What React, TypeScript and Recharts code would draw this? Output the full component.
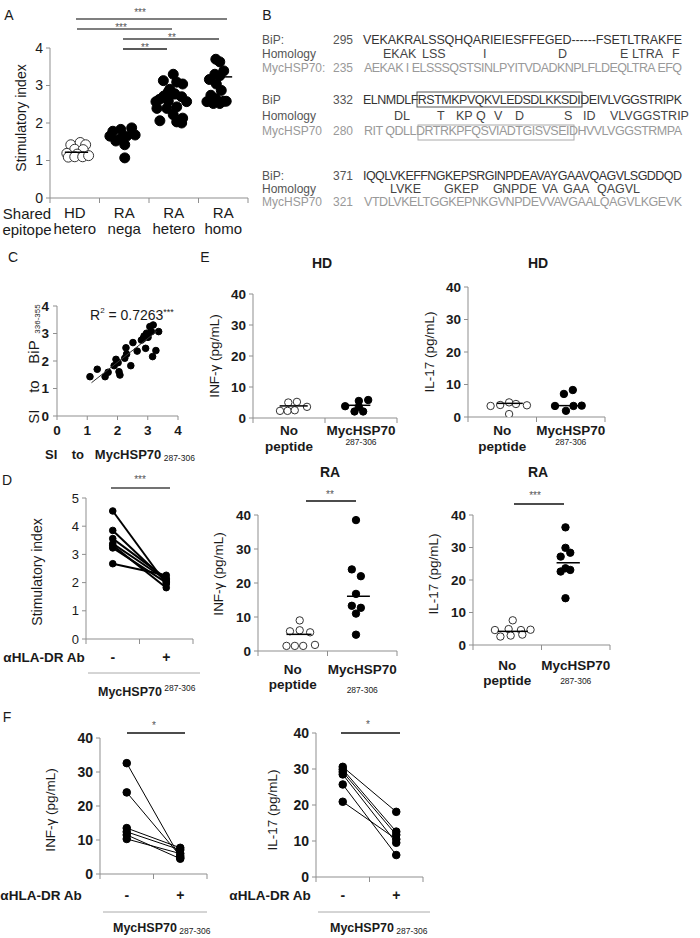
import React from "react";
import { ScatterChart, Scatter, XAxis, YAxis } from "recharts";

const FONT = '"Liberation Sans", Arial, Helvetica, sans-serif';
const INK = "#1a1a1a";
const AXIS = "#8f8f8f";
const GREY = "#555";

// ---------- A: stimulatory index by shared epitope ----------
const epitopeLabels = [["HD", "hetero"], ["RA", "nega"], ["RA", "hetero"], ["RA", "homo"]];
const hdX = [0.42, 0.61, 0.72, 0.5, 0.67, 0.34, 0.55, 0.37, 0.5, 0.66, 0.78];
const hdY = [1.42, 1.48, 1.42, 1.3, 1.29, 1.19, 1.17, 1.09, 1.1, 1.1, 1.13];
const negaX = [1.27, 1.43, 1.65, 1.21, 1.55, 1.72, 1.33, 1.51, 1.43, 1.51];
const negaY = [1.78, 1.83, 1.87, 1.65, 1.65, 1.68, 1.52, 1.42, 1.59, 1.07];
const heteroX = [2.49, 2.29, 2.56, 2.68, 2.42, 2.3, 2.21, 2.52, 2.66, 2.39, 2.76, 2.16, 2.36, 2.56, 2.49, 2.68, 2.22, 2.56, 2.66, 2.39, 2.14];
const heteroY = [3.3, 3.13, 3.09, 3.04, 2.9, 2.72, 2.63, 2.78, 2.7, 2.59, 2.57, 2.39, 2.39, 2.43, 2.22, 2.13, 2.06, 2.03, 2.0, 2.83, 2.57];
const homoX = [3.35, 3.43, 3.51, 3.33, 3.43, 3.22, 3.36, 3.46, 3.25, 3.35, 3.56, 3.17, 3.3, 3.43, 3.51];
const homoY = [3.7, 3.63, 3.39, 3.3, 3.26, 3.16, 3.04, 2.87, 2.74, 2.65, 2.58, 2.57, 2.52, 2.52, 2.58];
const epitopeMean = [1.22, 1.65, 2.65, 3.23];
const epitopeMeanFrom = [0.3, 1.27, 2.16, 3.29];
const epitopeMeanTo = [0.77, 1.76, 2.77, 3.68];

// ---------- C: correlation ----------
const corrX = [1.09, 1.33, 1.59, 1.69, 1.89, 1.95, 2.02, 2.05, 2.08, 2.24, 2.28, 2.3, 2.44, 2.51, 2.65, 2.79, 2.88, 2.93, 2.96, 3.01, 3.07, 3.12, 3.18, 3.16, 3.27, 3.36, 2.85];
const corrY = [1.43, 1.7, 1.43, 1.59, 1.83, 2.06, 1.94, 1.61, 1.49, 2.1, 2.48, 2.25, 1.83, 2.67, 2.36, 2.76, 2.91, 2.46, 3.01, 2.86, 3.25, 3.07, 3.31, 2.16, 2.38, 3.07, 2.82];
const trendX = [1.14, 3.29];
const trendY = [1.21, 3.07];

// ---------- D: blocking, stimulatory index ----------
const abLabels = ["-", "+"];
const dMinus = [4.54, 3.85, 3.56, 3.38, 3.32, 3.23, 2.67];
const dPlus = [1.95, 2.05, 2.15, 2.1, 1.82, 2.0, 2.26];

// ---------- E: cytokines ----------
const stimLabels = [["No", "peptide"], ["MycHSP70", "287-306"]];
const hdIfnNoX = [0.375, 0.48, 0.58, 0.49, 0.61, 0.75];
const hdIfnNoY = [2.3, 2.3, 2.5, 5.0, 5.2, 3.6];
const hdIfnMycX = [1.28, 1.41, 1.47, 1.53, 1.6, 1.47];
const hdIfnMycY = [3.8, 2.1, 5.5, 2.1, 5.8, 3.6];
const hdIfnMean = [3.9, 4.1];
const hdIl17NoX = [0.33, 0.47, 0.6, 0.7, 0.86, 0.6];
const hdIl17NoY = [3.4, 3.7, 4.5, 4.0, 3.6, 0.9];
const hdIl17MycX = [1.27, 1.4, 1.43, 1.53, 1.54, 1.66];
const hdIl17MycY = [3.4, 7.1, 1.9, 8.3, 3.4, 3.5];
const hdIl17Mean = [4.2, 3.5];
const raIfnNoX = [0.6, 0.46, 0.6, 0.75, 0.41, 0.53, 0.65, 0.82];
const raIfnNoY = [9.0, 5.8, 6.1, 5.5, 1.5, 1.5, 1.5, 1.8];
const raIfnMycX = [1.41, 1.35, 1.48, 1.41, 1.35, 1.48, 1.41, 1.41];
const raIfnMycY = [38.5, 24, 22, 16.8, 13.3, 12.7, 11, 4.8];
const raIfnMean = [4.9, 16.1];
const raIl17NoX = [0.58, 0.32, 0.52, 0.7, 0.84, 0.4, 0.55, 0.72];
const raIl17NoY = [7.6, 4.6, 4.9, 4.6, 4.7, 2.6, 2.9, 3.2];
const raIl17MycX = [1.35, 1.35, 1.28, 1.42, 1.28, 1.35, 1.42, 1.35];
const raIl17MycY = [36.2, 29.9, 27.2, 28.4, 22.6, 23.6, 23.1, 14.4];
const raIl17Mean = [4.2, 25.3];

// ---------- F: blocking, cytokines ----------
const fIfnMinus = [32.6, 24.0, 13.5, 12.4, 11.5, 10.3];
const fIfnPlus = [4.8, 5.3, 7.7, 7.1, 4.5, 6.0];
const fIl17Minus = [30.6, 29.9, 29.2, 28.5, 25.7, 20.9];
const fIl17Plus = [18.1, 12.6, 11.7, 9.5, 6.1, 10.5];

// ---------- B: alignment text ----------
const bipLabels = ["BiP:", "BiP", "BiP:"];
const mycLabels = ["MycHSP70:", "MycHSP70", "MycHSP70"];
const bipNums = ["295", "332", "371"];
const mycNums = ["235", "280", "321"];
const bipSeq = [
  "VEKAKRALSSQHQARIEIESFFEGED------FSETLTRAKFE",
  "ELNMDLFRSTMKPVQKVLEDSDLKKSDIDEIVLVGGSTRIPK",
  "IQQLVKEFFNGKEPSRGINPDEAVAYGAAVQAGVLSGDDQD",
];
const mycSeq = [
  "AEKAK I ELSSSQSTSINLPYITVDADKNPLFLDEQLTRA EFQ",
  "RIT QDLLDRTRKPFQSVIADTGISVSEIDHVVLVGGSTRMPA",
  "VTDLVKELTGGKEPNKGVNPDEVVAVGAALQAGVLKGEVK",
];
const homology: [string, number][][] = [
  [["EKAK", 383], ["LSS", 422], ["I", 483], ["D", 558], ["E", 620], ["LTRA", 632], ["F", 672]],
  [["DL", 394], ["T", 437], ["KP", 456], ["Q", 476], ["V", 494], ["D", 515], ["S", 564], ["ID", 583], ["VLVGGSTRIP", 610]],
  [["LVKE", 390], ["GKEP", 444], ["G", 493], ["NPDE", 502], ["VA", 542], ["GAA", 563], ["QAGVL", 597]],
];
const rowY = [[40, 54, 68], [100, 116, 131], [176, 189, 202]];

const PL = 60, PT = 12, PR = 12, PB = 70;

const pts = (xs: number[], ys: number[]) => xs.map((x, i) => ({ x, y: ys[i] }));
const dot = (r: number, open: boolean) => (p: any) => (
  <circle cx={p.cx} cy={p.cy} r={r} fill={open ? "#fff" : "#000"} stroke={open ? "#333" : "#000"} strokeWidth={1} />
);
const noDot = () => <g />;

type LabelLine = { text: string; dy: number; size: number; bold?: boolean };
type Rect = { x0: number; y0: number; x1: number; y1: number };

function Plot({ r, xMax, yMax, yTicks, tickSize, tickBold, cats, children }: any) {
  const rect = r as Rect;
  const w = rect.x1 - rect.x0, h = rect.y1 - rect.y0;
  const catW = w / xMax;
  const axisY = PT + h;
  const xTicks = Array.from({ length: xMax + 1 }, (_, i) => i);
  const catTick = (p: any) => {
    const lines: LabelLine[] | undefined = cats[p.payload.value];
    if (!lines) return <g />;
    return (
      <g>
        {lines.map((l, k) => (
          <text key={k} x={p.x + catW / 2} y={axisY + l.dy} textAnchor="middle" dominantBaseline="central"
            fontSize={l.size} fontWeight={l.bold ? 700 : 400} fill={INK} fontFamily={FONT}>{l.text}</text>
        ))}
      </g>
    );
  };
  return (
    <div style={{ position: "absolute", left: rect.x0 - PL, top: rect.y0 - PT }}>
      <ScatterChart width={w + PL + PR} height={h + PT + PB} margin={{ top: PT, right: PR, bottom: 0, left: 0 }}>
        <XAxis type="number" dataKey="x" domain={[0, xMax]} ticks={xTicks} interval={0} height={PB}
          stroke={AXIS} tickSize={5} tick={catTick} allowDataOverflow />
        <YAxis type="number" dataKey="y" domain={[0, yMax]} ticks={yTicks} interval={0} width={PL}
          stroke={AXIS} tickSize={4} tickMargin={3} allowDataOverflow
          tick={{ fill: INK, fontSize: tickSize, fontWeight: tickBold ? 700 : 400, fontFamily: FONT }} />
        {children}
      </ScatterChart>
    </div>
  );
}

const meanLine = (key: string, from: number, to: number, y: number) => (
  <Scatter key={key} data={[{ x: from, y }, { x: to, y }]} shape={noDot}
    line={{ stroke: "#000", strokeWidth: 1.5 }} lineType="joint" isAnimationActive={false} />
);
const group = (key: string, xs: number[], ys: number[], r: number, open: boolean) => (
  <Scatter key={key} data={pts(xs, ys)} shape={dot(r, open)} isAnimationActive={false} />
);
const pairs = (key: string, a: number[], b: number[], r: number, sw: number) =>
  a.map((v, i) => (
    <Scatter key={key + i} data={[{ x: 0.5, y: v }, { x: 1.5, y: b[i] }]} shape={dot(r, false)}
      line={{ stroke: "#000", strokeWidth: sw }} lineType="joint" isAnimationActive={false} />
  ));

function Txt({ x, y, size = 14, anchor = "middle", bold = false, fill = INK, rot = false, children }: any) {
  const common = { fontSize: size, fontWeight: bold ? 700 : 400, fill, fontFamily: FONT, textAnchor: anchor, dominantBaseline: "central", style: { whiteSpace: "pre" } } as any;
  if (rot) return <text transform={`translate(${x},${y}) rotate(-90)`} {...common}>{children}</text>;
  return <text x={x} y={y} {...common}>{children}</text>;
}

const Bar = ({ x1, x2, y, stroke = "#222", w = 1.5 }: any) => (
  <line x1={x1} x2={x2} y1={y} y2={y} stroke={stroke} strokeWidth={w} />
);

export default function App() {
  const aCats = epitopeLabels.map((l) => [
    { text: l[0], dy: 14, size: 15 },
    { text: l[1], dy: 30, size: 15 },
  ]);
  const eCats = (d1: number, d2: number, d3: number) => [
    [{ text: stimLabels[0][0], dy: d1, size: 13.5, bold: true }, { text: stimLabels[0][1], dy: d2, size: 13.5, bold: true }],
    [{ text: stimLabels[1][0], dy: d1, size: 13.5, bold: true }, { text: stimLabels[1][1], dy: d3, size: 8.5 }],
  ];
  const abCats = (dy: number) => abLabels.map((t) => [{ text: t, dy, size: 14, bold: true }]);
  const eSpan = [[0.37, 0.76], [1.25, 1.63]];

  return (
    <div style={{ position: "absolute", left: 0, top: 0, width: 700, height: 938, background: "#fff", overflow: "hidden" }}>
      {/* A */}
      <Plot r={{ x0: 50, y0: 48, x1: 248, y1: 198 }} xMax={4} yMax={4} yTicks={[0, 1, 2, 3, 4]} tickSize={14} cats={aCats}>
        {group("hd", hdX, hdY, 5, true)}
        {group("nega", negaX, negaY, 5, false)}
        {group("het", heteroX, heteroY, 5, false)}
        {group("homo", homoX, homoY, 5, false)}
        {epitopeMean.map((m, i) => meanLine("am" + i, epitopeMeanFrom[i], epitopeMeanTo[i], m))}
      </Plot>

      {/* C */}
      <div style={{ position: "absolute", left: 57 - PL, top: 306 - PT }}>
        <ScatterChart width={121 + PL + PR} height={110 + PT + PB} margin={{ top: PT, right: PR, bottom: 0, left: 0 }}>
          <XAxis type="number" dataKey="x" domain={[0, 4]} ticks={[0, 1, 2, 3, 4]} interval={0} height={PB}
            stroke={AXIS} tickSize={4} tickMargin={5} allowDataOverflow
            tick={{ fill: INK, fontSize: 13.5, fontWeight: 700, fontFamily: FONT }} />
          <YAxis type="number" dataKey="y" domain={[0, 4]} ticks={[0, 1, 2, 3, 4]} interval={0} width={PL}
            stroke={AXIS} tickSize={4} tickMargin={4} allowDataOverflow
            tick={{ fill: INK, fontSize: 13.5, fontWeight: 700, fontFamily: FONT }} />
          <Scatter data={pts(corrX, corrY)} shape={dot(3.3, false)} isAnimationActive={false} />
          <Scatter data={pts(trendX, trendY)} shape={noDot} line={{ stroke: "#333", strokeWidth: 1 }} lineType="joint" isAnimationActive={false} />
        </ScatterChart>
      </div>

      {/* D */}
      <Plot r={{ x0: 86, y0: 497.7, x1: 193, y1: 638.7 }} xMax={2} yMax={5} yTicks={[0, 1, 2, 3, 4, 5]} tickSize={13} cats={abCats(18)}>
        {pairs("d", dMinus, dPlus, 3.3, 2)}
      </Plot>

      {/* E */}
      <Plot r={{ x0: 253, y0: 294, x1: 397, y1: 418 }} xMax={2} yMax={40} yTicks={[0, 10, 20, 30, 40]} tickSize={13.5} tickBold cats={eCats(12, 28, 24)}>
        {group("n", hdIfnNoX, hdIfnNoY, 3.7, true)}
        {group("m", hdIfnMycX, hdIfnMycY, 3.7, false)}
        {hdIfnMean.map((m, i) => meanLine("e1" + i, eSpan[i][0], eSpan[i][1], m))}
      </Plot>
      <Plot r={{ x0: 468, y0: 287, x1: 605, y1: 417 }} xMax={2} yMax={40} yTicks={[0, 10, 20, 30, 40]} tickSize={13.5} tickBold cats={eCats(13, 29, 25)}>
        {group("n", hdIl17NoX, hdIl17NoY, 3.7, true)}
        {group("m", hdIl17MycX, hdIl17MycY, 3.7, false)}
        {hdIl17Mean.map((m, i) => meanLine("e2" + i, [0.42, 1.27][i], [0.8, 1.66][i], m))}
      </Plot>
      <Plot r={{ x0: 258, y0: 515, x1: 397, y1: 651 }} xMax={2} yMax={40} yTicks={[0, 10, 20, 30, 40]} tickSize={13.5} tickBold cats={eCats(18, 33, 39)}>
        {group("n", raIfnNoX, raIfnNoY, 3.7, true)}
        {group("m", raIfnMycX, raIfnMycY, 3.7, false)}
        {raIfnMean.map((m, i) => meanLine("e3" + i, [0.41, 1.28][i], [0.77, 1.61][i], m))}
      </Plot>
      <Plot r={{ x0: 473, y0: 515, x1: 610, y1: 645 }} xMax={2} yMax={40} yTicks={[0, 10, 20, 30, 40]} tickSize={13.5} tickBold cats={eCats(20, 35, 36)}>
        {group("n", raIl17NoX, raIl17NoY, 3.7, true)}
        {group("m", raIl17MycX, raIl17MycY, 3.7, false)}
        {raIl17Mean.map((m, i) => meanLine("e4" + i, [0.36, 1.22][i], [0.8, 1.56][i], m))}
      </Plot>

      {/* F */}
      <Plot r={{ x0: 100, y0: 738, x1: 207, y1: 874 }} xMax={2} yMax={40} yTicks={[0, 10, 20, 30, 40]} tickSize={14} tickBold cats={abCats(21)}>
        {pairs("fi", fIfnMinus, fIfnPlus, 3.8, 1)}
      </Plot>
      <Plot r={{ x0: 316, y0: 733, x1: 423, y1: 877 }} xMax={2} yMax={40} yTicks={[0, 10, 20, 30, 40]} tickSize={14} tickBold cats={abCats(18)}>
        {pairs("fl", fIl17Minus, fIl17Plus, 3.8, 1)}
      </Plot>

      {/* annotations */}
      <svg width={700} height={938} style={{ position: "absolute", left: 0, top: 0, pointerEvents: "none" }}>
        <Txt x={9} y={15}>A</Txt>
        <Txt x={267} y={15}>B</Txt>
        <Txt x={13} y={257}>C</Txt>
        <Txt x={7} y={480}>D</Txt>
        <Txt x={205} y={257}>E</Txt>
        <Txt x={7} y={717}>F</Txt>

        {/* A */}
        <Txt x={21} y={118} rot>Stimulatory index</Txt>
        <Txt x={27} y={213} size={15}>Shared</Txt>
        <Txt x={27} y={229} size={15}>epitope</Txt>
        <Bar x1={76} x2={227} y={19} stroke="#555" w={1.3} />
        <Bar x1={77} x2={172} y={29} stroke="#555" w={1.3} />
        <Bar x1={123} x2={219} y={39} stroke="#444" w={1.3} />
        <Bar x1={123} x2={167} y={49} stroke="#222" w={1.3} />
        <Txt x={140} y={12} size={10} fill={GREY}>***</Txt>
        <Txt x={121} y={27} size={10} fill={GREY}>***</Txt>
        <Txt x={172} y={37} size={10} fill={GREY}>**</Txt>
        <Txt x={145} y={47} size={10} fill={GREY}>**</Txt>

        {/* B */}
        {rowY.map((ys, i) => (
          <g key={i}>
            <Txt x={262} y={ys[0]} size={12} anchor="start" fill="#555">{bipLabels[i]}</Txt>
            <Txt x={333} y={ys[0]} size={12} anchor="start" fill="#555">{bipNums[i]}</Txt>
            <text x={363} y={ys[0]} textLength={319} lengthAdjust="spacing" fontSize={12.5} fill="#333" fontFamily={FONT} dominantBaseline="central">{bipSeq[i]}</text>
            <Txt x={262} y={ys[1]} size={12} anchor="start" fill="#555">Homology</Txt>
            {homology[i].map(([t, x], k) => (
              <Txt key={k} x={x} y={ys[1]} size={12.5} anchor="start" fill="#444">{t}</Txt>
            ))}
            <Txt x={262} y={ys[2]} size={12} anchor="start" fill="#999">{mycLabels[i]}</Txt>
            <Txt x={333} y={ys[2]} size={12} anchor="start" fill="#999">{mycNums[i]}</Txt>
            <text x={364} y={ys[2]} textLength={318} lengthAdjust="spacing" fontSize={12.5} fill="#999" fontFamily={FONT} dominantBaseline="central" style={{ whiteSpace: "pre" }}>{mycSeq[i]}</text>
          </g>
        ))}
        <rect x={417} y={92} width={165} height={15} fill="none" stroke="#555" strokeWidth={1} />
        <rect x={418} y={125} width={156} height={15} fill="none" stroke="#aaa" strokeWidth={1} />

        {/* C */}
        <text x={90} y={315} fontSize={14} fill={INK} fontFamily={FONT} dominantBaseline="central">
          R<tspan fontSize={8} dy={-5}>2</tspan><tspan dy={5}> = 0.7263</tspan><tspan fontSize={9} dy={-3}>***</tspan>
        </text>
        <text transform="translate(33,364) rotate(-90)" fontSize={15} fill={INK} fontFamily={FONT} textAnchor="middle" dominantBaseline="central" style={{ whiteSpace: "pre" }}>
          SI    to    BiP<tspan fontSize={8} dy={4}>   336-355</tspan>
        </text>
        <text x={45} y={454} fontSize={13} fontWeight={700} fill={INK} fontFamily={FONT} dominantBaseline="central" style={{ whiteSpace: "pre" }}>
          SI    to   MycHSP70<tspan fontSize={8.5} fontWeight={400} dy={4}> 287-306</tspan>
        </text>

        {/* D */}
        <Txt x={140} y={479} size={10} fill={GREY}>***</Txt>
        <Bar x1={111} x2={170} y={488} stroke="#444" />
        <Txt x={37} y={572} rot>Stimulatory index</Txt>
        <Txt x={44} y={657} size={13.5} bold>αHLA-DR Ab</Txt>
        <Bar x1={88} x2={200} y={673} stroke="#aaa" w={1} />
        <text x={98} y={692} fontSize={12.5} fontWeight={700} fill={INK} fontFamily={FONT} dominantBaseline="central">
          MycHSP70<tspan fontSize={8.5} fontWeight={400} dy={-4}> 287-306</tspan>
        </text>

        {/* E */}
        <Txt x={322} y={263} bold>HD</Txt>
        <Txt x={538} y={263} bold>HD</Txt>
        <Txt x={330} y={472} bold>RA</Txt>
        <Txt x={538} y={472} bold>RA</Txt>
        <Txt x={330} y={494} size={10} fill={GREY}>**</Txt>
        <Bar x1={306} x2={356} y={501} stroke="#111" />
        <Txt x={535} y={495} size={10} fill={GREY}>***</Txt>
        <Bar x1={514} x2={564} y={504} stroke="#111" />
        <Txt x={214} y={356} size={13.5} rot>INF-γ (pg/mL)</Txt>
        <Txt x={429} y={352} size={13.5} rot>IL-17 (pg/mL)</Txt>
        <Txt x={218} y={574} size={13.5} rot>INF-γ (pg/mL)</Txt>
        <Txt x={433} y={574} size={13.5} rot>IL-17 (pg/mL)</Txt>

        {/* F */}
        <Txt x={154} y={725} size={10} fill={GREY}>*</Txt>
        <Bar x1={127} x2={185} y={733} stroke="#111" />
        <Txt x={368} y={724} size={10} fill={GREY}>*</Txt>
        <Bar x1={341} x2={400} y={733} stroke="#111" />
        <Txt x={50} y={810} size={13.5} rot>INF-γ (pg/mL)</Txt>
        <Txt x={272} y={810} size={13.5} rot>IL-17 (pg/mL)</Txt>
        <Txt x={41} y={895} size={13.5} bold>αHLA-DR Ab</Txt>
        <Txt x={270} y={895} size={13.5} bold>αHLA-DR Ab</Txt>
        <Bar x1={103} x2={207} y={912} stroke="#aaa" w={1} />
        <Bar x1={318} x2={430} y={912} stroke="#aaa" w={1} />
        <text x={113} y={928} fontSize={12.5} fontWeight={700} fill={INK} fontFamily={FONT} dominantBaseline="central">
          MycHSP70<tspan fontSize={8.5} fontWeight={400} dy={3}> 287-306</tspan>
        </text>
        <text x={330} y={928} fontSize={12.5} fontWeight={700} fill={INK} fontFamily={FONT} dominantBaseline="central">
          MycHSP70<tspan fontSize={8.5} fontWeight={400} dy={3}> 287-306</tspan>
        </text>
      </svg>
    </div>
  );
}
